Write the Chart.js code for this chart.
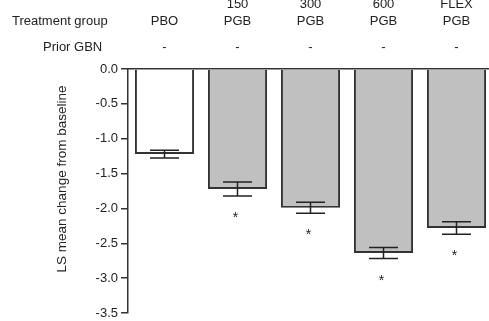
<!DOCTYPE html>
<html><head><meta charset="utf-8">
<script src="https://cdn.jsdelivr.net/npm/chart.js@4"></script>
<style>html,body{margin:0;padding:0;overflow:hidden;background:#fff}canvas{display:block}</style>
</head><body>
<canvas id="c" width="493" height="321"></canvas>
<script>
// ---- data ----
const doseRow = ['', '150', '300', '600', 'FLEX'];
const drugRow = ['PBO', 'PGB', 'PGB', 'PGB', 'PGB'];
const priorGBN = ['-', '-', '-', '-', '-'];
const lsMean = [-1.22, -1.72, -1.99, -2.64, -2.28];
const stdErr = [0.055, 0.10, 0.08, 0.08, 0.09];
const significant = [false, true, true, true, true];
const barColors = ['#ffffff', '#c0c0c0', '#c0c0c0', '#c0c0c0', '#c0c0c0'];
const rowTitles = ['Treatment group', 'Prior GBN'];
const yTitle = 'LS mean change from baseline';

const categories = doseRow.map((d, i) => (d ? d + ' ' : '') + drugRow[i]);
const FONT = '"Liberation Sans", Arial, sans-serif';
const INK = '#222222';

const overlay = {
  id: 'overlay',
  afterDatasetsDraw(chart) {
    const ctx = chart.ctx;
    const x = chart.scales.x, y = chart.scales.y;
    ctx.save();
    // error bars
    ctx.strokeStyle = INK;
    ctx.lineWidth = 1.5;
    const cap = 14.5;
    lsMean.forEach((m, i) => {
      const cx = x.getPixelForValue(i);
      const yt = y.getPixelForValue(m + stdErr[i]);
      const yb = y.getPixelForValue(m - stdErr[i]);
      ctx.beginPath();
      ctx.moveTo(cx, yt); ctx.lineTo(cx, yb);
      ctx.moveTo(cx - cap, yt); ctx.lineTo(cx + cap, yt);
      ctx.moveTo(cx - cap, yb); ctx.lineTo(cx + cap, yb);
      ctx.stroke();
      if (significant[i]) {
        ctx.fillStyle = INK;
        ctx.font = '14px ' + FONT;
        ctx.textAlign = 'center';
        ctx.textBaseline = 'alphabetic';
        ctx.fillText('*', cx - 2, yb + 18 + 8);
      }
    });
    // header rows
    ctx.fillStyle = INK;
    ctx.font = '13px ' + FONT;
    ctx.textBaseline = 'middle';
    ctx.textAlign = 'left';
    ctx.fillText(rowTitles[0], 12, 21);
    ctx.fillText(rowTitles[1], 43, 47);
    ctx.textAlign = 'center';
    categories.forEach((c, i) => {
      const cx = x.getPixelForValue(i);
      if (doseRow[i]) ctx.fillText(doseRow[i], cx, 4.5);
      ctx.fillText(drugRow[i], cx, 21);
      ctx.fillText(priorGBN[i], cx, 47);
    });
    // y axis title
    ctx.translate(62, 179);
    ctx.rotate(-Math.PI / 2);
    ctx.font = '13.5px ' + FONT;
    ctx.textAlign = 'center';
    ctx.textBaseline = 'middle';
    ctx.fillText(yTitle, 0, 0);
    ctx.restore();
  }
};

new Chart(document.getElementById('c'), {
  type: 'bar',
  data: {
    labels: categories,
    datasets: [{
      data: lsMean,
      backgroundColor: barColors,
      borderColor: '#333333',
      borderWidth: 2,
      borderSkipped: 'start',
      barPercentage: 0.81,
      categoryPercentage: 1.0
    }]
  },
  options: {
    responsive: false,
    devicePixelRatio: 1,
    animation: false,
    layout: { padding: { left: 0, right: 0, top: 69, bottom: 8 } },
    plugins: { legend: { display: false }, tooltip: { enabled: false } },
    scales: {
      x: {
        position: 'top',
        offset: true,
        grid: { display: false, drawTicks: false },
        ticks: { display: false },
        border: { display: true, color: '#333333', width: 1.5 },
        afterFit(s) { s.height = 0; }
      },
      y: {
        min: -3.5, max: 0,
        ticks: {
          stepSize: 0.5,
          padding: 3,
          color: INK,
          font: { family: FONT, size: 13 },
          callback: v => Number(v).toFixed(1)
        },
        grid: { drawOnChartArea: false, drawTicks: true, tickLength: 7, color: '#333333', lineWidth: 1.5 },
        border: { display: true, color: '#333333', width: 1.5 },
        title: { display: false },
        afterFit(s) { s.width = 128; s.paddingTop = 0; s.paddingBottom = 0; }
      }
    }
  },
  plugins: [overlay]
});
</script>
</body></html>
